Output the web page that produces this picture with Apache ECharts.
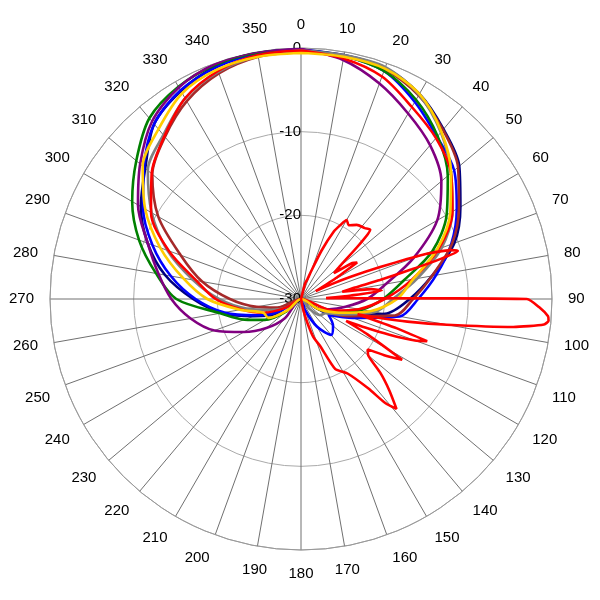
<!DOCTYPE html>
<html>
<head>
<meta charset="utf-8">
<script src="https://cdn.jsdelivr.net/npm/echarts@6/dist/echarts.min.js"></script>
<style>html,body{margin:0;padding:0;background:#fff}#c{width:600px;height:600px}</style>
</head>
<body>
<div id="c"></div>
<script>
// angles (degrees) shared by the main-beam traces
var mainAngles = [0,10,20,30,40,50,60,70,80,90,100,110,120,130,140,150,160,170,180,190,200,210,220,230,240,250,260,270,280,290,300,310,320,330,340,350,360];

// values in dB for each trace
var navyVals   = [-0.2,-0.4,-0.6,-1.7,-3.5,-5.3,-8.0,-10.5,-14.1,-17.0,-19.8,-24.6,-27.0,-30,-30,-30,-30,-30,-30,-30,-30,-30,-30,-30,-26.4,-24.0,-20.4,-17.1,-13.5,-10.5,-7.9,-5.7,-2.7,-1.3,-0.4,-0.1,-0.2];
var blueVals   = [-0.2,-0.5,-1.0,-2.8,-4.7,-6.1,-8.5,-10.9,-13.6,-16.0,-18.0,-23.4,-26.2,-25.0,-24.4,-26.2,-28.6,-30,-30,-30,-30,-30,-30,-30,-27.0,-24.3,-20.7,-17.4,-14.2,-11.1,-8.2,-5.5,-2.7,-1.2,-0.5,-0.2,-0.2];
var greenVals  = [-0.3,-0.5,-1.0,-2.5,-4.6,-7.1,-9.9,-13.3,-17.6,-20.2,-22.6,-25.2,-27.6,-30,-30,-30,-30,-30,-30,-30,-30,-30,-30,-27.6,-25.0,-22.8,-20.2,-15.1,-12.4,-9.4,-6.7,-4.3,-1.8,-0.7,-0.2,-0.1,-0.3];
var purpleVals = [-0.1,-1.0,-2.6,-4.4,-6.0,-8.1,-11.2,-15.7,-19.7,-22.1,-24.6,-26.4,-27.8,-30,-30,-30,-30,-30,-30,-30,-30,-30,-27.0,-24.6,-22.1,-19.0,-16.6,-14.5,-12.7,-10.5,-7.5,-4.9,-2.3,-0.8,-0.1,0,-0.1];
var grayVals   = [-0.3,-0.4,-0.5,-1.8,-4.0,-6.6,-9.1,-12.1,-15.9,-19.0,-21.0,-24.6,-26.6,-27.0,-28.5,-30,-30,-30,-30,-30,-30,-30,-30,-30,-28.0,-26.2,-23.4,-20.2,-16.9,-13.0,-9.4,-6.1,-4.4,-2.3,-1.1,-0.5,-0.3];
var yellowVals = [-0.6,-0.6,-0.7,-1.7,-3.9,-6.6,-9.4,-12.7,-16.4,-18.5,-21.6,-25.2,-27.6,-30,-30,-30,-30,-30,-30,-30,-30,-30,-30,-28.0,-25.5,-25.2,-22.6,-18.8,-15.7,-12.1,-8.5,-5.3,-3.5,-1.6,-0.8,-0.6,-0.6];
var brownVals  = [-0.4,-0.5,-0.8,-1.9,-3.6,-5.5,-8.2,-10.8,-14.1,-16.6,-18.6,-24.0,-27.6,-30,-30,-30,-30,-30,-30,-30,-30,-30,-30,-30,-30,-27.0,-24.6,-21.5,-18.0,-14.7,-10.3,-6.8,-4.7,-2.7,-1.3,-0.6,-0.4];
var redVals    = [-0.3,-0.8,-1.7,-3.5,-4.9,-6.6,-9.1,-12.5,-16.5,-20.0,-23.0,-26.0,-30,-30,-30,-30,-30,-30,-30,-30,-30,-30,-30,-30,-28.0,-25.2,-22.8,-19.8,-17.3,-13.2,-9.3,-6.7,-4.6,-2.3,-1.0,-0.4,-0.3];

// narrow-lobed red trace
var lobeAngles = [0,10,15,18,20,23,26,28,30,33,37,42,45,47,50,52,55,57,59,62,64,66,68,70,72,73,74,75,76.5,78,80,82,84,86,88,89,90,92,94,95,96,97.5,100,102,103.5,105,107,108.5,110,112,114,116,118,121,124,127,130,133,136,139,141,143,148,154,158,162,165,168,172,360];
var lobeVals   = [-30,-30,-28,-27.5,-26.5,-23.7,-21,-20,-19.1,-19.5,-18.9,-18.6,-18.3,-20.5,-24,-25,-22.5,-22,-25,-28,-26,-23.4,-19.8,-14.5,-11.1,-10.4,-12.7,-16.3,-20.3,-23.4,-25,-21.5,-20.3,-24,-27,-24,-3,-1.5,-0.4,-0.3,-0.8,-4.4,-12.3,-17,-20.3,-23,-18,-14.1,-15.5,-18.6,-21.6,-24,-21,-15.9,-18,-20,-19.5,-17,-14.8,-12.6,-14,-16.6,-19.5,-20.7,-24,-25.2,-27,-28.6,-30,-30];

// angle tick labels
var angleTicks = [0,10,20,30,40,50,60,70,80,90,100,110,120,130,140,150,160,170,180,190,200,210,220,230,240,250,260,270,280,290,300,310,320,330,340,350];
var radiusTicks = [-30,-20,-10,0];

function pairs(angles, vals){
  return angles.map(function(a,i){ return [vals[i], a]; });
}
var traces = [
  {name:'navy',   color:'#000080', a:mainAngles, v:navyVals, s:0.3},
  {name:'blue',   color:'#0000FF', a:mainAngles, v:blueVals, s:0.3},
  {name:'brown',  color:'#A52A2A', a:mainAngles, v:brownVals, s:0.3},
  {name:'green',  color:'#008000', a:mainAngles, v:greenVals, s:0.3},
  {name:'purple', color:'#800080', a:mainAngles, v:purpleVals, s:0.3},
  {name:'gray',   color:'#808080', a:mainAngles, v:grayVals, s:0.3},
  {name:'red',    color:'#FF0000', a:mainAngles, v:redVals, s:0.3},
  {name:'yellow', color:'#FFCC00', a:mainAngles, v:yellowVals, s:0.3},
  {name:'red lobes', color:'#FF0000', a:lobeAngles, v:lobeVals, s:0.2}
];

var chart = echarts.init(document.getElementById('c'), null, {renderer:'canvas'});
chart.setOption({
  animation:false,
  backgroundColor:'#fff',
  polar:{center:[301,299], radius:251},
  angleAxis:{
    type:'value', min:0, max:360, interval:10, startAngle:90, clockwise:true,
    axisLine:{show:true, lineStyle:{color:'#999', width:1}},
    axisTick:{show:false},
    splitLine:{show:true, lineStyle:{color:'#707070', width:1}},
    axisLabel:{
      show:true, margin:16, color:'#000', fontSize:15, fontFamily:'Liberation Sans, Arial, sans-serif',
      formatter:function(v){ return angleTicks.indexOf(v) >= 0 ? String(v) : ''; }
    }
  },
  radiusAxis:{
    type:'value', min:radiusTicks[0], max:radiusTicks[radiusTicks.length-1], interval:10,
    axisLine:{show:false}, axisTick:{show:false},
    splitLine:{show:true, lineStyle:{color:'#aaa', width:1}},
    axisLabel:{show:true, margin:0, color:'#000', fontSize:15, fontFamily:'Liberation Sans, Arial, sans-serif'}
  },
  series: traces.map(function(t){
    return {
      name:t.name, type:'line', coordinateSystem:'polar', showSymbol:false, symbol:'none',
      smooth:t.s, clip:false,
      lineStyle:{color:t.color, width:2.6},
      data: pairs(t.a, t.v)
    };
  })
});
</script>
</body>
</html>
